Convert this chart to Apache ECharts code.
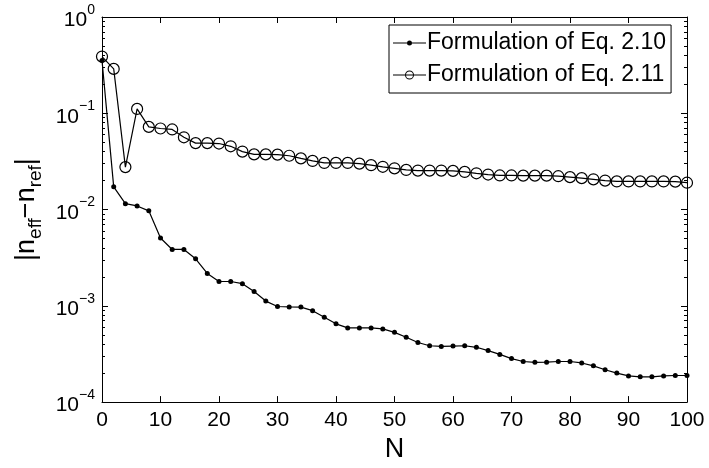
<!DOCTYPE html>
<html>
<head>
<meta charset="utf-8">
<script src="https://cdn.jsdelivr.net/npm/echarts@6/dist/echarts.min.js"></script>
<style>html,body{margin:0;padding:0;background:#fff;}#c{width:709px;height:468px;}</style>
</head>
<body>
<div id="c"></div>
<script>
var N = [0,2,4,6,8,10,12,14,16,18,20,22,24,26,28,30,32,34,36,38,40,42,44,46,48,50,52,54,56,58,60,62,64,66,68,70,72,74,76,78,80,82,84,86,88,90,92,94,96,98,100];
var eq210 = [0.354,0.0172,0.0115,0.0109,0.0097,0.00506,0.00385,0.00385,0.00308,0.00217,0.00179,0.00179,0.00170,0.00141,0.00112,0.000984,0.000975,0.00097,0.00089,0.00076,0.00065,0.00059,0.00059,0.00059,0.000576,0.00053,0.000471,0.000416,0.000385,0.000379,0.000382,0.000385,0.000371,0.000343,0.000313,0.000283,0.000264,0.000259,0.00026,0.000264,0.000264,0.000255,0.000238,0.000217,0.0002,0.000187,0.000183,0.000183,0.000187,0.000189,0.000189];
var eq211 = [0.388,0.289,0.0276,0.111,0.0722,0.0695,0.0679,0.0563,0.049,0.049,0.0485,0.0454,0.040,0.0374,0.0374,0.0372,0.0362,0.034,0.032,0.0305,0.0305,0.0305,0.030,0.0289,0.0278,0.0268,0.0258,0.0254,0.0254,0.0254,0.0252,0.0246,0.0238,0.0231,0.0226,0.0226,0.0225,0.0225,0.0225,0.0222,0.0217,0.0212,0.0206,0.0200,0.0196,0.0196,0.0196,0.0196,0.0196,0.0195,0.019];
var seriesNames = ['Formulation of Eq. 2.10', 'Formulation of Eq. 2.11'];
var yDecades = [1e-4, 1e-3, 1e-2, 1e-1, 1];
var yMinorTicks = [];
for (var d = 0; d < yDecades.length - 1; d++) {
  for (var m = 2; m <= 9; m++) yMinorTicks.push(+(m * yDecades[d]).toPrecision(3));
}

var FONT = '"Liberation Sans", Arial, Helvetica, sans-serif';
var chart = echarts.init(document.getElementById('c'), null, {renderer: 'canvas'});

function pairs(ys) { return N.map(function (n, i) { return [n, ys[i]]; }); }
function tick(len, custom) {
  var t = {show: true, inside: true, length: len, lineStyle: {color: '#000', width: 1}};
  if (custom) t.customValues = custom;
  return t;
}
function aLine(show) { return {show: show, onZero: false, lineStyle: {color: '#000', width: 1}}; }

function yLogAxis(pos, opts) {
  var a = {
    type: 'log', logBase: 10, min: 1e-4, max: 1, position: pos,
    axisLine: aLine(true), splitLine: {show: false}, minorTick: {show: false},
    axisTick: tick(6), axisLabel: {show: false}
  };
  for (var k in opts) a[k] = opts[k];
  return a;
}

var ICON_DOT = 'path://M0 0L0.01 0L0 0.01Z M0 10L0.01 10L0 9.99Z M0 4.5L14 4.5L14 5.5L0 5.5Z M19 4.5L33 4.5L33 5.5L19 5.5Z M14 5A2.5 2.5 0 1 1 19 5A2.5 2.5 0 1 1 14 5Z';
var ICON_RING = 'path://M0 0L0.01 0L0 0.01Z M0 10L0.01 10L0 9.99Z M0 4.5L33 4.5L33 5.5L0 5.5Z M12 5A4.5 4.5 0 1 1 21 5A4.5 4.5 0 1 1 12 5Z M13 5A3.5 3.5 0 1 0 20 5A3.5 3.5 0 1 0 13 5Z';

var option = {
  backgroundColor: '#fff',
  animation: false,
  textStyle: {fontFamily: FONT, color: '#000'},
  grid: {left: 102, right: 22, top: 17, bottom: 54, containLabel: false},
  legend: {
    orient: 'vertical', left: 389, top: 25,
    data: [
      {name: seriesNames[0], icon: ICON_DOT, itemStyle: {color: '#000', borderWidth: 0}},
      {name: seriesNames[1], icon: ICON_RING, itemStyle: {color: '#000', borderWidth: 0}}
    ],
    backgroundColor: '#fff', borderColor: '#000', borderWidth: 1, borderRadius: 0,
    padding: [4, 5, 4, 4], itemGap: 4, itemWidth: 33, itemHeight: 10,
    textStyle: {fontFamily: FONT, fontSize: 23, color: '#000', lineHeight: 28, padding: [0, 0, 0, -4]}
  },
  xAxis: [
    {type: 'value', min: 0, max: 100, interval: 10, position: 'bottom',
     axisLine: aLine(true), axisTick: tick(6), splitLine: {show: false},
     axisLabel: {fontFamily: FONT, fontSize: 21, color: '#000', margin: 8},
     name: 'N', nameLocation: 'middle', nameGap: 28,
     nameTextStyle: {fontFamily: FONT, fontSize: 27, color: '#000'}},
    {type: 'value', min: 0, max: 100, interval: 10, position: 'top',
     axisLine: aLine(true), axisTick: tick(6), splitLine: {show: false},
     axisLabel: {show: false}}
  ],
  yAxis: [
    yLogAxis('left', {
      axisLabel: {
        show: true, margin: 7,
        formatter: function (v) {
          var e = Math.round(Math.log10(v));
          return '{b|10}{s|' + (e < 0 ? '\u2212' + (-e) : e) + '}';
        },
        rich: {
          b: {fontFamily: FONT, fontSize: 21, color: '#000', lineHeight: 28, verticalAlign: 'bottom'},
          s: {fontFamily: FONT, fontSize: 14, color: '#000', lineHeight: 10, verticalAlign: 'top'}
        }
      },
      name: '{t||n}{sub|eff}{t|\u2212n}{sub|ref}{t||}',
      nameLocation: 'middle', nameGap: 55, nameRotate: 90,
      nameTextStyle: {
        rich: {
          t: {fontFamily: FONT, fontSize: 27, color: '#000', lineHeight: 32, verticalAlign: 'top'},
          sub: {fontFamily: FONT, fontSize: 19, color: '#000', lineHeight: 13, verticalAlign: 'bottom'}
        }
      }
    }),
    yLogAxis('right', {}),
    yLogAxis('right', {axisLine: aLine(false), axisTick: tick(3, yMinorTicks)}),
    yLogAxis('left', {axisLine: aLine(false), axisTick: tick(3, yMinorTicks)})
  ],
  series: [
    {name: seriesNames[0], type: 'line', xAxisIndex: 0, yAxisIndex: 0,
     data: pairs(eq210), symbol: 'circle', symbolSize: 5,
     lineStyle: {color: '#000', width: 1.2}, itemStyle: {color: '#000'}},
    {name: seriesNames[1], type: 'line', xAxisIndex: 0, yAxisIndex: 0,
     data: pairs(eq211), symbol: 'circle', symbolSize: 11,
     lineStyle: {color: '#000', width: 1.2},
     itemStyle: {color: 'rgba(0,0,0,0)', borderColor: '#000', borderWidth: 1.2}}
  ]
};
chart.setOption(option);
</script>
</body>
</html>
